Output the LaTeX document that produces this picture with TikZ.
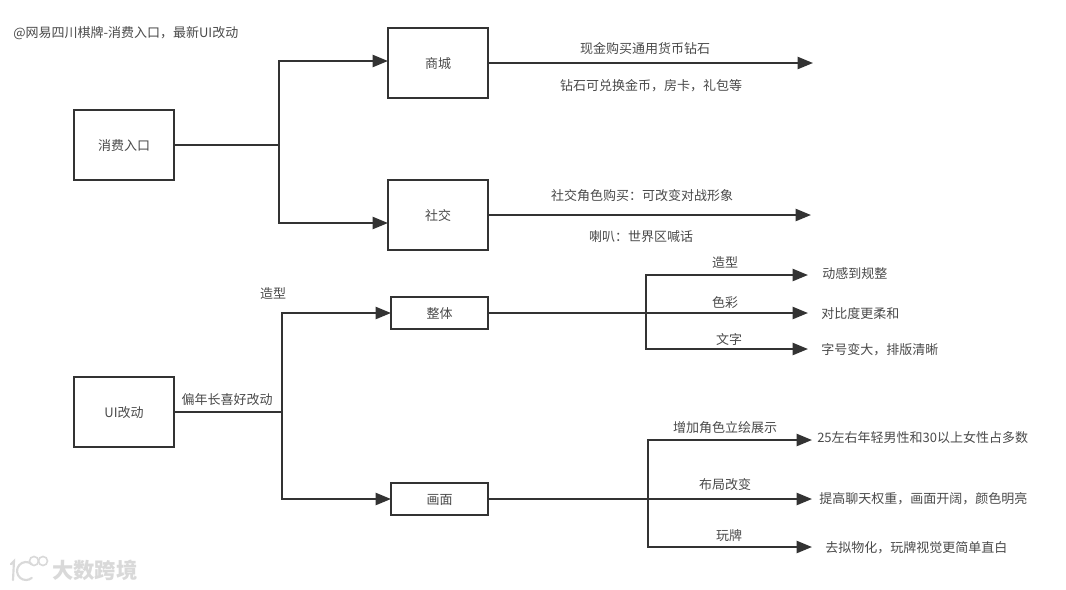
\documentclass[tikz,border=0pt]{standalone}
\usepackage{fontspec}
\setmainfont{Noto Sans CJK SC}
\usepackage{xcolor}
\usepackage{tikz}
\usetikzlibrary{positioning, arrows.meta}
\definecolor{linegray}{HTML}{333333}
\definecolor{textgray}{HTML}{4A4A4A}

\begin{document}
\begin{tikzpicture}[
    x=0.75pt, y=-0.75pt,
    font=\fontsize{9.75pt}{12pt}\selectfont,
    text=textgray,
    box/.style={draw=linegray, line width=1.65pt, outer sep=0pt, minimum height=52.5pt, minimum width=75pt, align=center, text height=9pt, text depth=1pt},
    flatbox/.style={box, minimum height=24pt, minimum width=72.75pt},
    label/.style={inner sep=0pt, yshift=-0.75pt},
    leaf/.style={label, anchor=west},
    line/.style={draw=linegray, line width=1.65pt},
    arrow/.style={line, -{Triangle[length=11.5pt, width=9pt]}}
]
\fill[white] (0,0) rectangle (1066,589);
\useasboundingbox (0,0) rectangle (1066,589);

\node[label, anchor=west] (title) at (13,32) {@网易四川棋牌-消费入口，最新UI改动};

% top half
\node[box] (consume) at (124,145) {消费入口};
\node[box, right=160.5pt of consume, yshift=61.5pt] (shop) {商城};
\node[box, below=61.5pt of shop] (social) {社交};
\coordinate (consumeJoin) at (279,145);
\coordinate (shopEnd) at (813,63);
\coordinate (socialEnd) at (811,215);
\node[label] (shopA) at (645,48) {现金购买通用货币钻石};
\node[label] (shopB) at (651,85) {钻石可兑换金币，房卡，礼包等};
\node[label] (socialA) at (642,195) {社交角色购买：可改变对战形象};
\node[label] (socialB) at (641,236) {喇叭：世界区喊话};
\draw[line] (consume) -- (consumeJoin);
\draw[arrow] (consumeJoin) |- ([yshift=1.5pt]shop.west);
\draw[arrow] (consumeJoin) |- ([yshift=-6pt]social.west);
\draw[arrow] (shop) -- (shopEnd);
\draw[arrow] (social) -- (socialEnd);

% bottom half
\node[box] (ui) at (124,412) {UI改动};
\node[flatbox, right=162.75pt of ui, yshift=74.25pt] (whole) {整体};
\node[flatbox, below=115.5pt of whole] (scene) {画面};
\coordinate (uiJoin) at (282,412);
\node[label] (uiNote) at (227,399) {偏年长喜好改动};
\node[label] (wholeNote) at (273,293) {造型};
\draw[line] (ui) -- (uiJoin);
\draw[arrow] (uiJoin) |- (whole);
\draw[arrow] (uiJoin) |- (scene);

% whole branches
\coordinate (wholeJoin) at (646,313);
\coordinate (shapeEnd) at (808,275);
\coordinate (colorEnd) at (808,313);
\coordinate (fontEnd) at (808,349);
\node[label] (shapeTag) at (725,262) {造型};
\node[label] (colorTag) at (725,302) {色彩};
\node[label] (fontTag) at (729,339) {文字};
\node[leaf] (shapeLeaf) at (822,273) {动感到规整};
\node[leaf] (colorLeaf) at (821,313) {对比度更柔和};
\node[leaf] (fontLeaf) at (821,349) {字号变大，排版清晰};
\draw[line] (whole) -- (wholeJoin);
\draw[arrow] (wholeJoin) |- (shapeEnd);
\draw[arrow] (wholeJoin) -- (colorEnd);
\draw[arrow] (wholeJoin) |- (fontEnd);

% scene branches
\coordinate (sceneJoin) at (648,499);
\coordinate (roleEnd) at (812,440);
\coordinate (layoutEnd) at (812,499);
\coordinate (cardEnd) at (812,547);
\node[label] (roleTag) at (725,427) {增加角色立绘展示};
\node[label] (layoutTag) at (725,484) {布局改变};
\node[label] (cardTag) at (729,535) {玩牌};
\node[leaf] (roleLeaf) at (817,437) {25左右年轻男性和30以上女性占多数};
\node[leaf] (layoutLeaf) at (819,498) {提高聊天权重，画面开阔，颜色明亮};
\node[leaf] (cardLeaf) at (825,547) {去拟物化，玩牌视觉更简单直白};
\draw[line] (scene) -- (sceneJoin);
\draw[arrow] (sceneJoin) |- (roleEnd);
\draw[arrow] (sceneJoin) -- (layoutEnd);
\draw[arrow] (sceneJoin) |- (cardEnd);

% watermark
\node[inner sep=0pt, anchor=west, text=gray!30, font=\fontsize{16pt}{18pt}\selectfont\bfseries] (mark) at (52,570) {大数跨境};
\draw[gray!30, line width=1.6pt, line cap=round] (11,564) -- (14,561) -- (13,580);
\draw[gray!30, line width=1.6pt, line cap=round] (31.8,564.1) arc (-50:-310:9);
\draw[gray!30, line width=1.2pt] (34,561) circle (4.5);
\draw[gray!30, line width=1.2pt] (43,561) circle (4.5);
\end{tikzpicture}
\end{document}
